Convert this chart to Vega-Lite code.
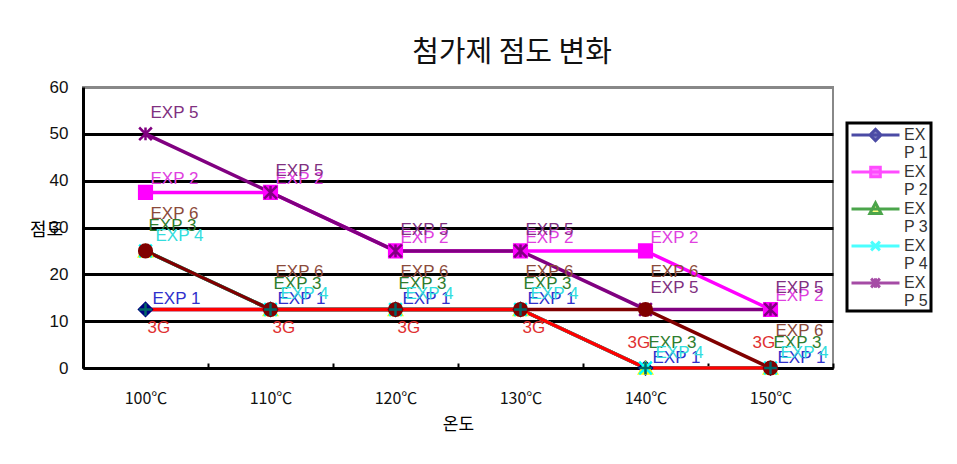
{
  "$schema": "https://vega.github.io/schema/vega-lite/v6.json",
  "width": 750,
  "height": 281,
  "autosize": "none",
  "padding": {"left": 83, "top": 87, "right": 124, "bottom": 96},
  "background": "white",
  "title": {"text": "첨가제 점도 변화", "font": "Noto Sans CJK KR", "fontSize": 29, "fontWeight": "normal", "color": "#111", "anchor": "middle", "dx": 54, "dy": 27, "offset": 14, "baseline": "alphabetic"},
  "config": {
    "view": {"stroke": "#888", "strokeWidth": 2},
    "legend": {"strokeWidth": 3}
  },
  "data": {"values": [
    {"temp": "100℃", "series": "EXP 1", "value": 12.5},
    {"temp": "110℃", "series": "EXP 1", "value": 12.5},
    {"temp": "120℃", "series": "EXP 1", "value": 12.5},
    {"temp": "130℃", "series": "EXP 1", "value": 12.5},
    {"temp": "140℃", "series": "EXP 1", "value": 0},
    {"temp": "150℃", "series": "EXP 1", "value": 0},
    {"temp": "100℃", "series": "EXP 2", "value": 37.5},
    {"temp": "110℃", "series": "EXP 2", "value": 37.5},
    {"temp": "120℃", "series": "EXP 2", "value": 25},
    {"temp": "130℃", "series": "EXP 2", "value": 25},
    {"temp": "140℃", "series": "EXP 2", "value": 25},
    {"temp": "150℃", "series": "EXP 2", "value": 12.5},
    {"temp": "100℃", "series": "EXP 3", "value": 25},
    {"temp": "110℃", "series": "EXP 3", "value": 12.5},
    {"temp": "120℃", "series": "EXP 3", "value": 12.5},
    {"temp": "130℃", "series": "EXP 3", "value": 12.5},
    {"temp": "140℃", "series": "EXP 3", "value": 0},
    {"temp": "150℃", "series": "EXP 3", "value": 0},
    {"temp": "100℃", "series": "EXP 4", "value": 25},
    {"temp": "110℃", "series": "EXP 4", "value": 12.5},
    {"temp": "120℃", "series": "EXP 4", "value": 12.5},
    {"temp": "130℃", "series": "EXP 4", "value": 12.5},
    {"temp": "140℃", "series": "EXP 4", "value": 0},
    {"temp": "150℃", "series": "EXP 4", "value": 0},
    {"temp": "100℃", "series": "EXP 5", "value": 50},
    {"temp": "110℃", "series": "EXP 5", "value": 37.5},
    {"temp": "120℃", "series": "EXP 5", "value": 25},
    {"temp": "130℃", "series": "EXP 5", "value": 25},
    {"temp": "140℃", "series": "EXP 5", "value": 12.5},
    {"temp": "150℃", "series": "EXP 5", "value": 12.5},
    {"temp": "100℃", "series": "EXP 6", "value": 25},
    {"temp": "110℃", "series": "EXP 6", "value": 12.5},
    {"temp": "120℃", "series": "EXP 6", "value": 12.5},
    {"temp": "130℃", "series": "EXP 6", "value": 12.5},
    {"temp": "140℃", "series": "EXP 6", "value": 12.5},
    {"temp": "150℃", "series": "EXP 6", "value": 0},
    {"temp": "100℃", "series": "3G", "value": 12.5},
    {"temp": "110℃", "series": "3G", "value": 12.5},
    {"temp": "120℃", "series": "3G", "value": 12.5},
    {"temp": "130℃", "series": "3G", "value": 12.5},
    {"temp": "140℃", "series": "3G", "value": 0},
    {"temp": "150℃", "series": "3G", "value": 0}
  ]},
  "encoding": {
    "x": {
      "field": "temp", "type": "nominal", "sort": null, "bandPosition": 0.5,
      "scale": {"type": "band", "paddingInner": 0, "paddingOuter": 0, "domain": ["100℃", "110℃", "120℃", "130℃", "140℃", "150℃"]},
      "axis": {"title": "온도", "titleFont": "Noto Sans CJK KR", "titleFontSize": 17, "titleFontWeight": "normal", "titleColor": "#000", "titlePadding": 10,
               "labelFont": "Noto Sans CJK KR", "labelFontSize": 16, "labelColor": "#111", "labelAngle": 0, "labelPadding": 27,
               "domainColor": "#000", "domainWidth": 3, "tickBand": "extent", "tickColor": "#000", "tickWidth": 2, "tickSize": -5, "grid": false}
    },
    "y": {
      "field": "value", "type": "quantitative",
      "scale": {"domain": [0, 60]},
      "axis": {"title": "점도", "titleAngle": 0, "titleX": -37, "titleY": 143, "titleAlign": "center", "titleBaseline": "middle",
               "titleFont": "Noto Sans CJK KR", "titleFontSize": 18, "titleFontWeight": "normal", "titleColor": "#000",
               "values": [0, 10, 20, 30, 40, 50, 60], "labelFont": "Liberation Sans", "labelFontSize": 17, "labelColor": "#111", "labelPadding": 15,
               "ticks": false, "domainColor": "#000", "domainWidth": 3, "grid": true,
               "gridColor": {"condition": {"test": "datum.value >= 60", "value": "#888"}, "value": "#000"}, "gridWidth": 3}
    }
  },
  "resolve": {"scale": {"shape": "independent", "fill": "independent", "stroke": "independent"}},
  "layer": [
    {
      "transform": [{"filter": "datum.series !== '3G'"}],
      "mark": {"type": "line", "strokeWidth": 3.5},
      "encoding": {
        "color": {"field": "series", "type": "nominal", "legend": null,
                  "scale": {"domain": ["EXP 1", "EXP 2", "EXP 3", "EXP 4", "EXP 5", "EXP 6", "3G"], "range": ["#000080", "#ff00ff", "#008000", "#00ffff", "#800080", "#800000", "#ff0000"]}}
      }
    },
    {
      "transform": [{"filter": "datum.series === '3G'"}],
      "mark": {"type": "line", "strokeWidth": 3.5},
      "encoding": {
        "color": {"field": "series", "type": "nominal", "legend": null}
      }
    },
    {
      "mark": {"type": "point", "size": 160, "strokeWidth": 2.5, "opacity": 1},
      "encoding": {
        "shape": {"field": "series", "type": "nominal", "legend": null,
                  "scale": {"domain": ["EXP 1", "EXP 2", "EXP 3", "EXP 4", "EXP 5", "EXP 6", "3G"],
                            "range": ["diamond", "square", "triangle-up", "M-1,-1L1,1M-1,1L1,-1M0,-1V1", "M-1,-1L1,1M-1,1L1,-1M0,-1V1", "circle", "M-1,0H1M0,-1V1"]}},
        "fill": {"field": "series", "type": "nominal", "legend": null,
                 "scale": {"domain": ["EXP 1", "EXP 2", "EXP 3", "EXP 4", "EXP 5", "EXP 6", "3G"], "range": ["#000080", "#ff00ff", "#ffff00", "#00ffff", "#800080", "#800000", "#006666"]}},
        "stroke": {"field": "series", "type": "nominal", "legend": null,
                   "scale": {"domain": ["EXP 1", "EXP 2", "EXP 3", "EXP 4", "EXP 5", "EXP 6", "3G"], "range": ["#000080", "#ff00ff", "#ffff00", "#00ffff", "#800080", "#800000", "#006666"]}}
      }
    },
    {
      "transform": [{"filter": "datum.series === 'EXP 1'"}],
      "mark": {"type": "text", "align": "left", "baseline": "middle", "dx": 7, "dy": -10, "font": "Liberation Sans", "fontSize": 17, "color": "#3030cc"},
      "encoding": {"text": {"field": "series"}}
    },
    {
      "transform": [{"filter": "datum.series === 'EXP 2'"}],
      "mark": {"type": "text", "align": "left", "baseline": "middle", "dx": 5, "dy": -13, "font": "Liberation Sans", "fontSize": 17, "color": "#e040e0"},
      "encoding": {"text": {"field": "series"}}
    },
    {
      "transform": [{"filter": "datum.series === 'EXP 3'"}],
      "mark": {"type": "text", "align": "left", "baseline": "middle", "dx": 3, "dy": -25, "font": "Liberation Sans", "fontSize": 17, "color": "#2e7d2e"},
      "encoding": {"text": {"field": "series"}}
    },
    {
      "transform": [{"filter": "datum.series === 'EXP 4'"}],
      "mark": {"type": "text", "align": "left", "baseline": "middle", "dx": 10, "dy": -15, "font": "Liberation Sans", "fontSize": 17, "color": "#33dddd"},
      "encoding": {"text": {"field": "series"}}
    },
    {
      "transform": [{"filter": "datum.series === 'EXP 5'"}],
      "mark": {"type": "text", "align": "left", "baseline": "middle", "dx": 5, "dy": -21, "font": "Liberation Sans", "fontSize": 17, "color": "#803080"},
      "encoding": {"text": {"field": "series"}}
    },
    {
      "transform": [{"filter": "datum.series === 'EXP 6'"}],
      "mark": {"type": "text", "align": "left", "baseline": "middle", "dx": 5, "dy": -37, "font": "Liberation Sans", "fontSize": 17, "color": "#8b4a3a"},
      "encoding": {"text": {"field": "series"}}
    },
    {
      "transform": [{"filter": "datum.series === '3G' && datum.value > 0"}],
      "mark": {"type": "text", "align": "left", "baseline": "middle", "dx": 2, "dy": 19, "font": "Liberation Sans", "fontSize": 17, "color": "#e03030"},
      "encoding": {"text": {"field": "series"}}
    },
    {
      "transform": [{"filter": "datum.series === '3G' && datum.value == 0"}],
      "mark": {"type": "text", "align": "left", "baseline": "middle", "dx": -18, "dy": -25, "font": "Liberation Sans", "fontSize": 17, "color": "#e03030"},
      "encoding": {"text": {"field": "series"}}
    },
    {
      "transform": [{"filter": "false"}],
      "mark": {"type": "point", "filled": true, "strokeWidth": 3},
      "encoding": {
        "shape": {"field": "series", "type": "nominal",
                  "scale": {"domain": ["EXP 1", "EXP 2", "EXP 3", "EXP 4", "EXP 5"],
                            "range": ["M-3,0H3M-0.7,0L0,-0.7L0.7,0L0,0.7Z", "M-3,0H3M-0.6,-0.6H0.6V0.6H-0.6Z", "M-3,0H3M0,-0.75L0.7,0.55H-0.7Z", "M-3,0H3M-0.55,-0.55L0.55,0.55M-0.55,0.55L0.55,-0.55", "M-3,0H3M-0.55,-0.55L0.55,0.55M-0.55,0.55L0.55,-0.55M0,-0.6V0.6"]},
                  "legend": {"title": null, "orient": "none", "legendX": 764, "legendY": 36, "strokeColor": "#000", "padding": 2,
                             "symbolSize": 256, "symbolStrokeWidth": 3, "symbolOffset": 17, "labelOffset": 19, "clipHeight": 20, "rowPadding": 1,
                             "labelFont": "Liberation Sans", "labelFontSize": 16, "labelColor": "#333", "labelBaseline": "middle",
                             "labelExpr": "['EX', 'P ' + slice(datum.label, 4)]"}},
        "fill": {"field": "series", "type": "nominal",
                 "scale": {"domain": ["EXP 1", "EXP 2", "EXP 3", "EXP 4", "EXP 5"], "range": ["#000080", "#ff00ff", "#ffff00", "#00ffff", "#800080"]},
                 "legend": {"title": null, "orient": "none", "legendX": 764, "legendY": 36, "strokeColor": "#000", "padding": 2,
                            "symbolSize": 256, "symbolStrokeWidth": 3, "symbolOffset": 17, "labelOffset": 19, "clipHeight": 20, "rowPadding": 1,
                            "labelFont": "Liberation Sans", "labelFontSize": 16, "labelColor": "#333", "labelBaseline": "middle",
                            "labelExpr": "['EX', 'P ' + slice(datum.label, 4)]"}},
        "stroke": {"field": "series", "type": "nominal",
                   "scale": {"domain": ["EXP 1", "EXP 2", "EXP 3", "EXP 4", "EXP 5"], "range": ["#000080", "#ff00ff", "#008000", "#00ffff", "#800080"]},
                   "legend": {"title": null, "orient": "none", "legendX": 764, "legendY": 36, "strokeColor": "#000", "padding": 2,
                              "symbolSize": 256, "symbolStrokeWidth": 3, "symbolOffset": 17, "labelOffset": 19, "clipHeight": 20, "rowPadding": 1,
                              "labelFont": "Liberation Sans", "labelFontSize": 16, "labelColor": "#333", "labelBaseline": "middle",
                              "labelExpr": "['EX', 'P ' + slice(datum.label, 4)]"}}
      }
    }
  ]
}
